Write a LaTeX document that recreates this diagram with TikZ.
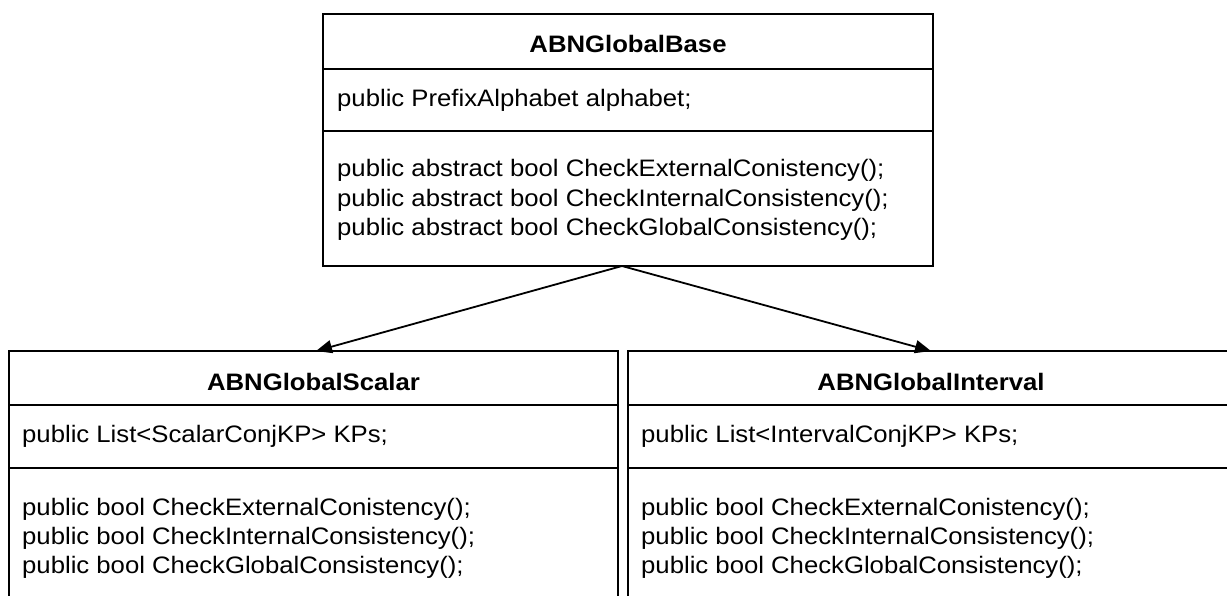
\documentclass[tikz,border=0pt]{standalone}
\usepackage{fontspec}
\setmainfont{Liberation Sans}[FakeStretch=1.08]
\usetikzlibrary{arrows.meta}
\begin{document}
\begin{tikzpicture}[x=1pt,y=-1pt,
  classbox/.style={draw=black,line width=2pt,rectangle,inner sep=0pt,outer sep=0pt},
  divider/.style={draw=black,line width=2pt},
  txt/.style={anchor=base west,inner sep=0pt,font=\fontsize{23.8}{29.5}\selectfont},
  ttl/.style={anchor=base,inner sep=0pt,font=\fontsize{23.8}{29.5}\selectfont\bfseries},
  inherit/.style={draw=black,line width=1.8pt,-{Triangle[length=16pt,width=13pt]}}]
\useasboundingbox (0,0) rectangle (1227,596);
\fill[white] (0,0) rectangle (1227,596);
\clip (0,0) rectangle (1227,596);
% top class
\node[classbox,minimum width=610pt,minimum height=252pt] (base) at (628,140) {};
\draw[divider] (323,69) -- (933,69);
\draw[divider] (323,131.5) -- (933,131.5);
\node[ttl] (basetitle) at (628,53) {ABNGlobalBase};
\node[txt] (baseattr) at (337,107) {public PrefixAlphabet alphabet;};
\node[txt] (basem1) at (337,177) {public abstract bool CheckExternalConistency();};
\node[txt] (basem2) at (337,206.5) {public abstract bool CheckInternalConsistency();};
\node[txt] (basem3) at (337,236) {public abstract bool CheckGlobalConsistency();};
% left class
\node[classbox,minimum width=609pt,minimum height=289pt] (scalar) at (313.5,495.5) {};
\draw[divider] (9,405) -- (618,405);
\draw[divider] (9,468) -- (618,468);
\node[ttl] (scalartitle) at (313.5,390) {ABNGlobalScalar};
\node[txt] (scalarattr) at (22,442) {public List<ScalarConjKP> KPs;};
\node[txt] (scalarm1) at (22,515) {public bool CheckExternalConistency();};
\node[txt] (scalarm2) at (22,544) {public bool CheckInternalConsistency();};
\node[txt] (scalarm3) at (22,573) {public bool CheckGlobalConsistency();};
% right class
\node[classbox,minimum width=610pt,minimum height=289pt] (interval) at (933,495.5) {};
\draw[divider] (628,405) -- (1238,405);
\draw[divider] (628,468) -- (1238,468);
\node[ttl] (intervaltitle) at (931,390) {ABNGlobalInterval};
\node[txt] (intervalattr) at (641,442) {public List<IntervalConjKP> KPs;};
\node[txt] (intervalm1) at (641,515) {public bool CheckExternalConistency();};
\node[txt] (intervalm2) at (641,544) {public bool CheckInternalConsistency();};
\node[txt] (intervalm3) at (641,573) {public bool CheckGlobalConsistency();};
% inheritance arrows
\coordinate (fork) at ([xshift=-6pt]base.south);
\draw[inherit] (fork) -- ([xshift=2.5pt]scalar.north);
\draw[inherit] (fork) -- ([xshift=-2pt]interval.north);
\end{tikzpicture}
\end{document}
